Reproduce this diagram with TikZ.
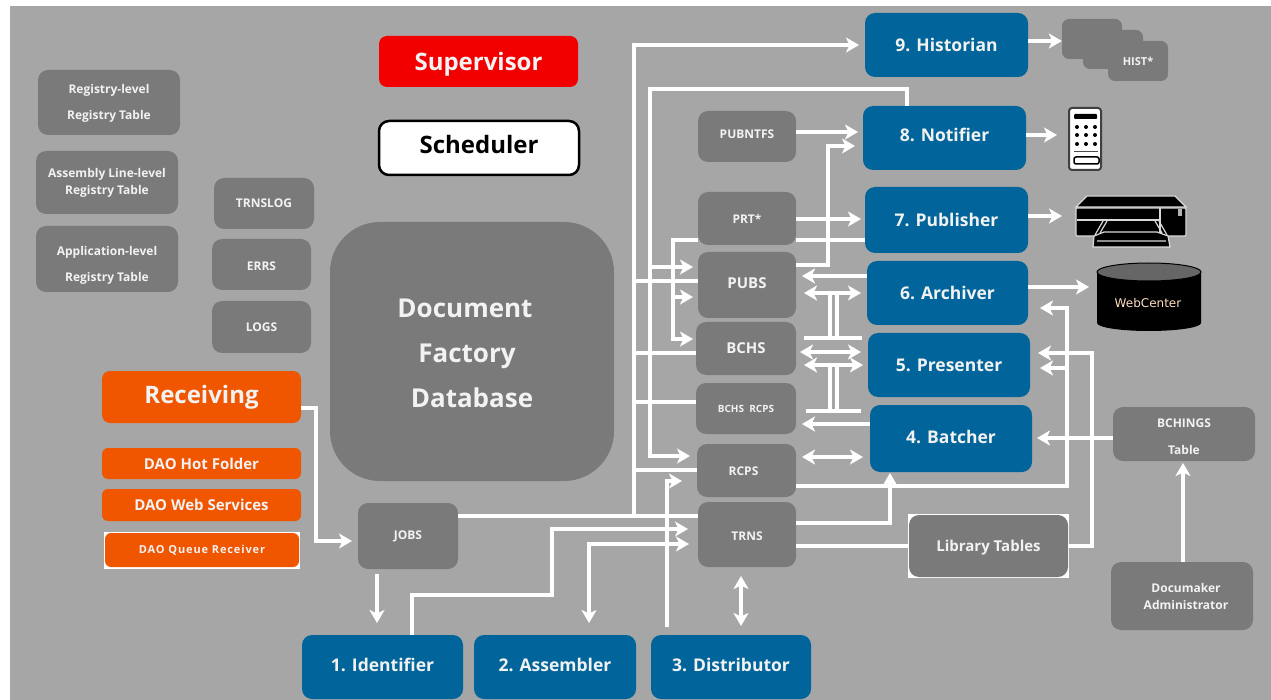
\documentclass[tikz,border=0pt]{standalone}
\usepackage{fontspec}
\setmainfont{Open Sans}
\newfontfamily\wcfont{DejaVu Sans}
\usetikzlibrary{arrows.meta,calc}
\definecolor{bg}{HTML}{A6A6A6}
\definecolor{gb}{HTML}{7A7A7A}
\definecolor{blu}{HTML}{01659B}
\definecolor{org}{HTML}{F05500}
\definecolor{txt}{HTML}{F2F2F2}
\newcommand{\fs}[2]{\fontsize{#1}{#2}\selectfont\bfseries}
\newcommand{\up}[2]{\raisebox{#1pt}[\height][\depth]{#2}}
\newcommand{\bx}[7]{%
  \pgfmathsetmacro{\cxx}{(#3+#5)/2}\pgfmathsetmacro{\cyy}{(#4+#6)/2}%
  \pgfmathsetmacro{\ww}{#5-#3}\pgfmathsetmacro{\hh}{#6-#4}%
  \node[#2,minimum width=\ww pt,minimum height=\hh pt] (#1) at (\cxx,\cyy) {#7};}
\tikzset{
  x=1pt,y=-1pt,
  base/.style={rectangle,rounded corners=10pt,inner sep=0pt,align=center,text=txt},
  gbox/.style={base,fill=gb},
  bbox/.style={base,fill=blu,font=\fs{17.5}{20}},
  obox/.style={base,fill=org,rounded corners=6pt},
  sm/.style={font=\fs{12}{16}},
  md/.style={font=\fs{15}{18}},
  wl/.style={draw=white,line width=3.2pt,line join=miter},
  a/.style={wl,-{Stealth[length=13pt,width=15pt,inset=3.5pt]}},
  aa/.style={wl,{Stealth[length=13pt,width=15pt,inset=3.5pt]}-{Stealth[length=13pt,width=15pt,inset=3.5pt]}},
}
\begin{document}
\begin{tikzpicture}
\useasboundingbox (0,0) rectangle (1271,700);
\fill[white] (0,0) rectangle (1271,700);
\fill[bg] (10,6) rectangle (1271,700);
% left
\bx{sup}{base,fill=red!95!black,rounded corners=8pt,font=\fs{24}{28}}{379}{36}{578}{87}{\up{-3}{Supervisor}}
\bx{sch}{base,fill=white,draw=black,line width=2.5pt,text=black,font=\fs{24}{28}}{379}{121}{579}{175}{\up{3}{Scheduler}}
\bx{reg}{gbox,font=\fs{12}{26}}{38}{70}{180}{135}{\up{-1}{Registry-level}\\\up{-1}{Registry Table}}
\bx{asm}{gbox,font=\fs{12}{17}}{36}{151}{178}{214}{Assembly Line-level\\Registry Table}
\bx{app}{gbox,font=\fs{12}{26}}{36}{226}{178}{292}{\up{-6}{Application-level}\\\up{-6}{Registry Table}}
\bx{trnslog}{gbox,sm}{214}{178}{314}{229}{TRNSLOG}
\bx{errs}{gbox,sm}{212}{239}{311}{290}{\up{-2}{ERRS}}
\bx{logs}{gbox,sm}{212}{301}{311}{353}{LOGS}
\bx{db}{base,fill=gb,rounded corners=50pt,font=\fs{26}{45}}{330}{222}{614}{481}{\up{-2}{\hspace*{-14pt}Document}\\\up{-2}{\hspace*{-10pt}Factory}\\\up{-2}{Database}}
\bx{recv}{obox,font=\fs{24}{26},rounded corners=8pt}{102}{371}{301}{423}{Receiving}
\bx{hot}{obox,md}{102}{448}{301}{479}{DAO Hot Folder}
\bx{web}{obox,md}{102}{489}{301}{521}{DAO Web Services}
\fill[white] (104,532) rectangle (300,569);
\bx{queue}{obox,fill=orange!30!red!0!org,font=\fs{11}{14}}{105}{533}{299}{567}{\addfontfeature{LetterSpace=8}DAO Queue Receiver}
\bx{jobs}{gbox,sm}{358}{503}{458}{569}{JOBS}
% bottom
\bx{s1}{bbox}{302}{635}{463}{699}{\up{2}{1. Identifier}}
\bx{s2}{bbox}{474}{635}{636}{699}{\up{2}{2. Assembler}}
\bx{s3}{bbox}{651}{635}{811}{699}{\up{2}{3. Distributor}}
% right stack
\bx{s9}{bbox}{865}{13}{1028}{77}{9. Historian}
\bx{s8}{bbox}{863}{106}{1026}{170}{\up{3}{8. Notifier}}
\bx{s7}{bbox}{865}{187}{1028}{253}{7. Publisher}
\bx{s6}{bbox}{867}{261}{1028}{325}{6. Archiver}
\bx{s5}{bbox}{868}{333}{1030}{397}{5. Presenter}
\bx{s4}{bbox}{870}{405}{1032}{472}{\up{2}{4. Batcher}}
% centre tables
\bx{pubntfs}{gbox,sm}{698}{111}{796}{162}{\up{2}{PUBNTFS}}
\bx{prt}{gbox,sm}{698}{192}{796}{245}{PRT*}
\bx{pubs}{gbox,md}{698}{252}{796}{318}{\up{2}{PUBS}}
\bx{bchs}{gbox,md}{696}{322}{796}{375}{BCHS}
\bx{bchsr}{gbox,font=\fs{10}{12}}{696}{383}{796}{434}{BCHS\ \ RCPS}
\bx{rcps}{gbox,sm}{697}{444}{796}{497}{\up{-1}{\hspace*{-6pt}RCPS}}
\bx{trns}{gbox,sm}{698}{502}{796}{567}{\up{-2}{TRNS}}
\fill[white] (908,514) rectangle (1069,578);
\bx{lib}{gbox,md}{909}{515}{1068}{577}{\up{-2}{Library Tables}}
\bx{bching}{gbox,font=\fs{12}{26}}{1113}{407}{1255}{461}{\up{-2}{BCHINGS}\\\up{-3}{Table}}
\bx{admin}{gbox,font=\fs{12}{17}}{1111}{562}{1253}{630}{\hspace*{8pt}Documaker\\\hspace*{8pt}Administrator}
% HIST stack
\bx{h1}{gbox,rounded corners=7pt}{1062}{19}{1122}{59}{}
\bx{h2}{gbox,rounded corners=7pt}{1083}{30}{1143}{69}{}
\bx{h3}{gbox,rounded corners=7pt,font=\fs{11}{13}}{1108}{41}{1168}{81}{HIST*}
% phone
\bx{phone}{rectangle,rounded corners=3pt,fill=white,draw=black!75,line width=2pt}{1069}{108}{1101}{170}{}
\fill[black,rounded corners=1pt] (1074,114) rectangle (1097,119);
\foreach \py in {127,135,144}{\foreach \px in {1077,1086,1095}{\fill[black] (\px,\py) circle (2pt);}}
\draw[black!70,line width=1pt] (1074,152) -- (1098,152);
\draw[black,line width=1.5pt,rounded corners=2pt] (1074,157) rectangle (1099,164);
% printer
\node[rectangle,minimum width=113pt,minimum height=53pt,inner sep=0pt] (printer) at (1131.5,221.5) {};
\fill[black,draw=white!85!black,line width=1.2pt] (1076,207) -- (1087,196) -- (1175,196) -- (1186,207) -- cycle;
\fill[black,draw=white!85!black,line width=1.2pt,rounded corners=1pt] (1076,208) rectangle (1186,236);
\draw[white!85!black,line width=1.2pt] (1077,220) -- (1159,220);
\draw[white!85!black,line width=1.2pt] (1160,208) -- (1160,236);
\fill[white!70!black] (1178,209) rectangle (1182,216);
\fill[black,draw=white!85!black,line width=1.2pt] (1094,236) -- (1104,232) -- (1157,232) -- (1168,236) -- (1170,247) -- (1093,247) -- cycle;
\draw[white!85!black,line width=1.2pt] (1095,235) -- (1103,221) (1100,233) -- (1107,221) (1155,221) -- (1162,233) (1159,221) -- (1167,235) (1097,241) -- (1166,241);
% cylinder
\node[rectangle,minimum width=104pt,minimum height=69pt,inner sep=0pt] (wc) at (1149,296.5) {};
\fill[black] (1097,272) -- (1097,323) arc[start angle=180,end angle=360,x radius=52pt,y radius=8pt] -- (1201,272) -- cycle;
\fill[black!60,draw=black,line width=1pt] (1149,272) ellipse [x radius=52pt,y radius=9pt];
\node[text=orange!25!white,font=\wcfont\fontsize{12}{14}\selectfont] (wctext) at (1148,303) {WebCenter};
% connectors
\draw[a] (recv.east |- 0,408) -- (316,408) -- (316,541) -- (352,541);
\draw[a] (377,574) -- (377,623);
\draw[wl] (jobs.east |- 0,516) -- (trns.west |- 0,516);
\coordinate (busa) at (634,516);
\draw[a] (busa) -- (634,45) -- (859,45);
\draw[wl] (634,281) -- (pubs.west |- 0,281);
\draw[wl] (634,353) -- (bchs.west |- 0,353);
\draw[wl] (634,402) -- (bchsr.west |- 0,402);
\draw[wl] (634,470) -- (rcps.west |- 0,470);
\draw[a] (s8.north -| 907,0) -- (907,89) -- (650,89) -- (650,456) -- (690,456);
\draw[a] (650,267) -- (693,267);
\draw[wl] (s7.west |- 0,240) -- (prt.east |- 0,240);
\draw[a] (prt.west |- 0,240) -- (673,240) -- (673,339) -- (693,339);
\draw[a] (673,297) -- (693,297);
\draw[a] (pubs.east |- 0,265) -- (828,265) -- (828,146) -- (855,146);
\draw[a] (pubntfs.east |- 0,132) -- (858,132);
\draw[a] (prt.east |- 0,219) -- (861,219);
\draw[a] (s6.west |- 0,276) -- (802,276);
\draw[aa] (804,293) -- (861,293);
\draw[wl] (830,293) -- (830,338);
\draw[wl] (837,293) -- (837,338);
\draw[wl] (804,338) -- (862,338);
\draw[aa] (800,352) -- (861,352);
\draw[aa] (804,365) -- (863,365);
\draw[wl] (830,365) -- (830,411);
\draw[wl] (837,365) -- (837,411);
\draw[wl] (806,411) -- (861,411);
\draw[a] (s4.west |- 0,424) -- (802,424);
\draw[aa] (802,457) -- (863,457);
\draw[a] (rcps.east |- 0,486) -- (1067,486) -- (1067,308) -- (1040,308);
\draw[a] (1067,368) -- (1040,368);
\draw[wl] (lib.west |- 0,546) -- (trns.east |- 0,546);
\draw[a] (lib.east |- 0,546) -- (1092,546) -- (1092,353) -- (1038,353);
\draw[a] (trns.east |- 0,523) -- (890,523) -- (890,473);
\draw[a] (bching.west |- 0,438) -- (1037,438);
\draw[a] (admin.north -| 1183,0) -- (1183,463);
\draw[a] (s1.north -| 412,0) -- (412,595) -- (552,595) -- (552,529) -- (688,529);
\draw[aa] (589,623) -- (589,544) -- (689,544);
\draw[a] (667,627) -- (667,481) -- (682,481);
\draw[aa] (741,576) -- (741,626);
\draw[a] (s9.east |- 0,41) -- (h1.west |- 0,41);
\draw[a] (s8.east |- 0,135) -- (1057,135);
\draw[a] (s7.east |- 0,216) -- (1062,216);
\draw[a] (s6.east |- 0,287) -- (1089,287);
\end{tikzpicture}
\end{document}
